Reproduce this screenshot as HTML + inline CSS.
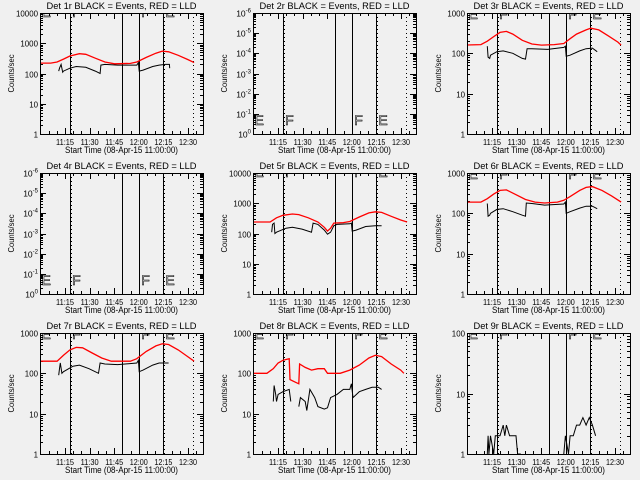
<!DOCTYPE html>
<html><head><meta charset="utf-8"><style>
body{margin:0;background:#f0f0f0;}
svg{display:block;font-family:"Liberation Sans",sans-serif;}
</style></head><body>
<svg id="c" width="640" height="480" viewBox="0 0 640 480">
<rect width="640" height="480" fill="#f0f0f0"/>
</svg>
<script>
const detNames = ["1r","2r","3r","4r","5r","6r","7r","8r","9r"];
const yDecades = [[0,4],[0,6],[0,3],[0,6],[0,4],[0,3],[0,3],[0,3],[0,2]];
const expLabels = [false,true,false,true,false,false,false,false,false];
const redSeries = [
 [[0,220],[8,220],[12,240],[16,300],[20,380],[26,450],[30,430],[36,320],[42,240],[48,210],[58,215],[62,240],[68,340],[74,470],[78,550],[82,520],[88,400],[94,290],[98,230]],
 [],
 [[0,160],[10,165],[14,200],[18,260],[22,330],[26,350],[30,300],[36,210],[42,170],[48,160],[56,165],[62,175],[66,230],[70,300],[76,380],[79,420],[84,380],[90,270],[96,190],[98,160]],
 [],
 [[0,240],[12,240],[16,330],[20,400],[26,440],[30,420],[36,330],[42,240],[46,160],[48,120],[50,150],[52,220],[58,230],[62,250],[68,350],[74,480],[78,520],[82,500],[88,370],[94,280],[98,240]],
 [[0,190],[10,190],[14,230],[18,300],[22,370],[26,380],[32,290],[38,220],[44,190],[50,180],[58,190],[62,210],[66,260],[72,370],[76,440],[80,460],[86,370],[92,270],[98,190]],
 [[0,200],[12,200],[16,280],[20,380],[24,440],[28,430],[34,320],[40,240],[46,200],[58,200],[62,230],[68,350],[74,480],[78,540],[82,520],[88,380],[94,260],[98,200]],
 [[0,100],[10,100],[14,130],[17,180],[20,210],[22,220],[24,230],[24.5,70],[28,60],[30,55],[30.5,170],[34,140],[38,120],[42,130],[46,130],[48,100],[56,100],[62,120],[68,160],[74,240],[78,280],[82,260],[88,170],[94,120],[96,100]],
 []
];
const blackSeries = [
 [[13,120],[13.5,150],[14.5,200],[15.5,110],[16,120],[20,150],[24,170],[30,160],[36,120],[39,100],[39.5,190],[42,200],[50,190],[62,190],[63,230],[63.5,120],[66,130],[72,170],[76,190],[80,200],[82.5,200],[82.7,150]],
 [],
 [[14,150],[14.5,80],[15.5,75],[16,90],[20,110],[24,115],[30,100],[36,75],[38,72],[39,130],[42,130],[52,125],[62,140],[63,150],[63.5,85],[66,90],[72,115],[76,130],[80,135],[83,110]],
 [],
 [[13,110],[13.5,200],[14.5,220],[15,100],[16,110],[22,150],[26,160],[32,140],[38,110],[39,220],[42,200],[46,130],[48,95],[50,110],[52,180],[54,200],[62,210],[63,220],[63.5,120],[66,130],[72,170],[78,180],[82,180]],
 [[14,175],[14.5,85],[15.5,90],[16,100],[20,125],[24,130],[30,110],[36,90],[38,85],[38.5,180],[42,175],[50,160],[62,170],[63,190],[63.5,100],[66,110],[72,135],[76,150],[80,150],[83,130]],
 [[13,90],[13.5,130],[14,180],[15,100],[16,110],[22,150],[26,160],[32,130],[38,100],[39,180],[42,170],[50,165],[62,180],[63,210],[63.5,110],[66,120],[72,160],[76,180],[82,180]],
 [[14,20],[14.5,50],[15.5,30],[16,20],[17,30],[20,35],[24,40],[25,20],null,[30,15],[31,25],[34,20],[35,12],[37,40],[40,25],[42,15],[46,13],[48,14],[50,25],[54,30],[58,40],[62,40],[63,55],[64,25],[68,35],[72,40],[76,45],[80,45],[82,40]],
 [[14,1],[14.5,2],[15,1],[16,2],[18,1],[19,2],[22,2],[24,3],[25,2],[26,3],[28,2],[32,2],[33,1],[35,1],null,[62,1],[63,2],[65,1],[66,2],[68,2],[70,3],[72,3],[74,4],[76,3],[78,4],[80,3],[82,2]]
];
const solidLines = [20.1,52.7,63.4,78.5];
const dottedLines = [20.6,79.0,97.3];
const markerLetters = [["E",1.6],["F",20.8],["F",64.2],["E",79.3]];
const xTickMinutes = [15,30,45,60,75,90];
const xTickLabels = ["11:15","11:30","11:45","12:00","12:15","12:30"];

const NS="http://www.w3.org/2000/svg";
const svg=document.getElementById('c');
function mk(tag,attrs,parent){const e=document.createElementNS(NS,tag);for(const k in attrs)e.setAttribute(k,attrs[k]);(parent||svg).appendChild(e);return e;}
const colX=[40,253,467], rowY=[13,173,333], W=163, H=121;

for(let i=0;i<9;i++){
  const L=colX[i%3], T=rowY[Math.floor(i/3)], B=T+H, R=L+W;
  const [d0,d1]=yDecades[i];
  const xs=m=>L-2+m*1.593;
  const xl=m=>L+0.4+m*1.64;
  const ys=v=>B-(Math.log10(v)-d0)/(d1-d0)*H;
  const g=mk('g',{});
  
  
  const cp=mk('clipPath',{id:'cp'+i},g);mk('rect',{x:L,y:T,width:W,height:H},cp);
  const t=mk('text',{x:L+W/2-75,y:T-4,'font-size':9.5,textLength:150,lengthAdjust:'spacingAndGlyphs',fill:'#000'},g);
  t.textContent='Det '+detNames[i]+' BLACK = Events, RED = LLD';
  
  
  const yt=mk('text',{transform:`translate(${L-26},${T+H/2+19}) rotate(-90)`,'font-size':8,textLength:38,lengthAdjust:'spacingAndGlyphs'},g);
  yt.textContent='Counts/sec';
  
  
  const xt=mk('text',{x:L+25,y:B+19,'font-size':9,textLength:113,lengthAdjust:'spacingAndGlyphs'},g);
  xt.textContent='Start Time (08-Apr-15 11:00:00)';
  
  
  for(let m=5;m<=100;m+=5){const x=Math.round(xl(m))+0.5;if(x<=L||x>=R)continue;const len=(m%15==0)?6:3;
    mk('line',{x1:x,y1:B,x2:x,y2:B-len,stroke:'#000'},g);mk('line',{x1:x,y1:T,x2:x,y2:T+len,stroke:'#000'},g);}
  xTickMinutes.forEach((m,k)=>{const tl=mk('text',{x:xl(m)-9,y:B+11,'font-size':8.5,textLength:18,lengthAdjust:'spacingAndGlyphs'},g);tl.textContent=xTickLabels[k];
    
    });
  for(let d=d0;d<=d1;d++){
    const y=Math.round(ys(Math.pow(10,d)))+0.5;
    mk('line',{x1:L,y1:y,x2:L+6,y2:y,stroke:'#000'},g);mk('line',{x1:R,y1:y,x2:R-6,y2:y,stroke:'#000'},g);
    const lab=mk('text',{x:L-2,y:y+3,'text-anchor':'end','font-size':8.5},g);
    
    
    if(expLabels[i]){lab.textContent='10';const s=mk('tspan',{dy:-4,'font-size':6},lab);s.textContent=d==0?'0':'-'+d;}
    else {const s=String(Math.pow(10,d));lab.textContent=s;lab.setAttribute('textLength',s.length*4.4);lab.setAttribute('lengthAdjust','spacingAndGlyphs');}
    if(d<d1)for(let k=2;k<10;k++){const yy=Math.round(ys(k*Math.pow(10,d)))+0.5;
      mk('line',{x1:L,y1:yy,x2:L+3,y2:yy,stroke:'#000'},g);mk('line',{x1:R,y1:yy,x2:R-3,y2:yy,stroke:'#000'},g);}
  }
  const inner=mk('g',{'clip-path':`url(#cp${i})`},g);
  solidLines.forEach(m=>{const x=Math.round(xs(m))+0.5;const l=mk('line',{x1:x,y1:T,x2:x,y2:B,stroke:'#000','stroke-width':1},inner);
    
    });
  dottedLines.forEach(m=>{const x=Math.round(xs(m))+0.5;mk('line',{x1:x,y1:T,x2:x,y2:B,stroke:'#000','stroke-dasharray':'1,3'},inner);});
  const bottomLetters=expLabels[i];
  markerLetters.forEach(([c,m])=>{const lt=mk('text',{x:xs(m)+1,y:bottomLetters?B-9:T+(d1-d0>=4?4:6),'font-size':14,fill:'none',stroke:'#000','stroke-width':0.6},inner);
    lt.textContent=c;
    
    });
  function path(arr,color,name,w){if(!arr.length)return;let d='',start=true;
    arr.forEach(p=>{if(p===null){start=true;return;}d+=(start?'M':'L')+xs(p[0]).toFixed(1)+','+ys(p[1]).toFixed(1);start=false;});
    const p=mk('path',{d,fill:'none',stroke:color,'stroke-width':w},inner);
    
    }
  path(redSeries[i],'#ff0000','lld-red-series',1.3);
  path(blackSeries[i],'#000','events-black-series',1);
  mk('rect',{x:L+0.5,y:T+0.5,width:W,height:H,fill:'none',stroke:'#000','stroke-width':1},g);
}
</script>
</body></html>
